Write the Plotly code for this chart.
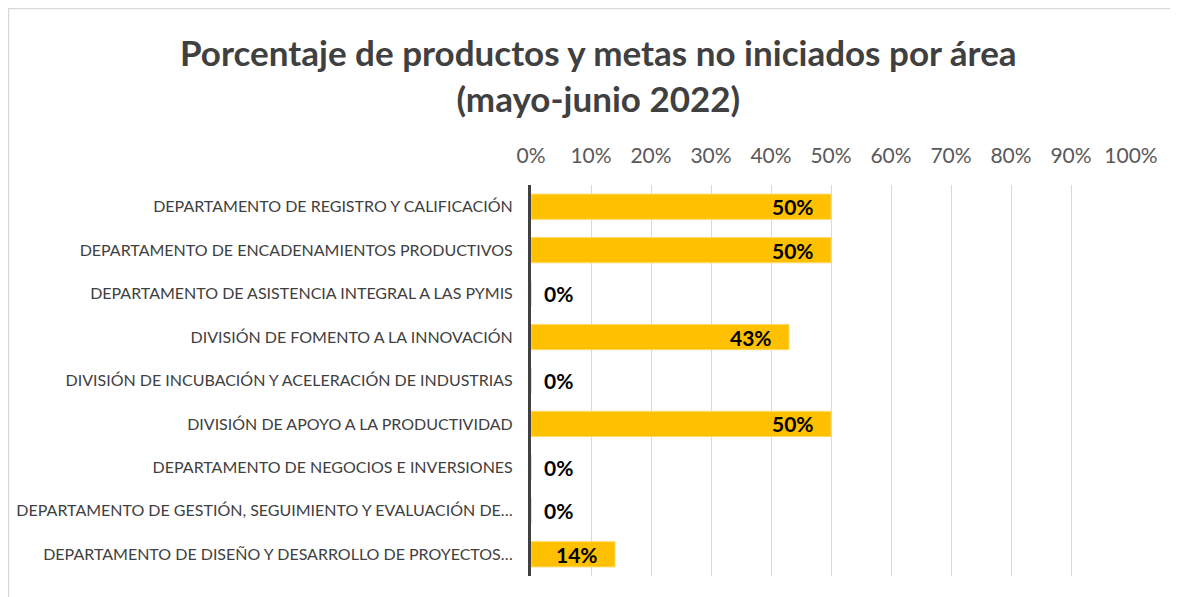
import plotly.graph_objects as go

categorias = [
    "DEPARTAMENTO DE REGISTRO Y CALIFICACIÓN",
    "DEPARTAMENTO DE ENCADENAMIENTOS PRODUCTIVOS",
    "DEPARTAMENTO DE ASISTENCIA INTEGRAL A LAS PYMIS",
    "DIVISIÓN DE FOMENTO A LA INNOVACIÓN",
    "DIVISIÓN DE INCUBACIÓN Y ACELERACIÓN DE INDUSTRIAS",
    "DIVISIÓN DE APOYO A LA PRODUCTIVIDAD",
    "DEPARTAMENTO DE NEGOCIOS E INVERSIONES",
    "DEPARTAMENTO DE GESTIÓN, SEGUIMIENTO Y EVALUACIÓN DE…",
    "DEPARTAMENTO DE DISEÑO Y DESARROLLO DE PROYECTOS…",
]
valores = [50, 50, 0, 43, 0, 50, 0, 0, 14]
etiquetas = [f"{v}%" for v in valores]
ticks = list(range(0, 101, 10))
tick_labels = [f"{t}%" for t in ticks]
titulo = "Porcentaje de productos y metas no iniciados por área<br>(mayo-junio 2022)"

# the page body has an 8px margin, so the figure is drawn 8px smaller
W, H = 1170, 589
ML, MR, MT, MB = 523, 47, 177, 21
pw, ph = W - ML - MR, H - MT - MB

fig = go.Figure(go.Bar(
    x=valores, y=categorias, orientation="h",
    marker=dict(color="#FFC000", line=dict(color="#FFD966", width=1)),
    width=0.58, hoverinfo="skip",
))

annotations = []
for c, v, t in zip(categorias, valores, etiquetas):
    inside = v > 0
    annotations.append(dict(
        x=v, y=c, xref="x", yref="y", text=f"<b>{t}</b>",
        showarrow=False,
        xanchor="right" if inside else "left",
        xshift=-15 if inside else 11,
        font=dict(family="Lato", size=21, color="#000000"),
    ))

annotations.append(dict(
    text=f"<b>{titulo}</b>", xref="paper", yref="paper",
    x=(590 - ML) / pw, y=(H - MB - 67) / ph,
    xanchor="center", yanchor="middle", showarrow=False,
    font=dict(family="Lato", size=35, color="#404040"),
))

fig.update_layout(
    width=W, height=H,
    margin=dict(l=ML, r=MR, t=MT, b=MB),
    paper_bgcolor="white", plot_bgcolor="white",
    showlegend=False,
    font=dict(family="Lato", color="#404040"),
    xaxis=dict(
        side="top", range=[0, 100], tickvals=ticks, ticktext=tick_labels,
        showgrid=True, gridcolor="#d9d9d9", gridwidth=1,
        zeroline=False, showline=False, ticks="", automargin=False,
        tickfont=dict(family="Lato", size=21, color="#595959"),
        ticklabelstandoff=17,
    ),
    yaxis=dict(
        autorange="reversed", showgrid=False, zeroline=False,
        showline=True, linecolor="#404040", linewidth=3, ticks="",
        automargin=False,
        tickfont=dict(family="Lato", size=16, color="#404040"),
        ticklabelstandoff=12,
    ),
    annotations=annotations,
    shapes=[dict(type="rect", xref="paper", yref="paper",
                 x0=(0.5 - ML) / pw, x1=(W + 20 - ML) / pw,
                 y0=-0.3, y1=(H - MB - 0.5) / ph,
                 line=dict(color="#d9d9d9", width=1.5), layer="below")],
)

fig.write_html("out.html")
